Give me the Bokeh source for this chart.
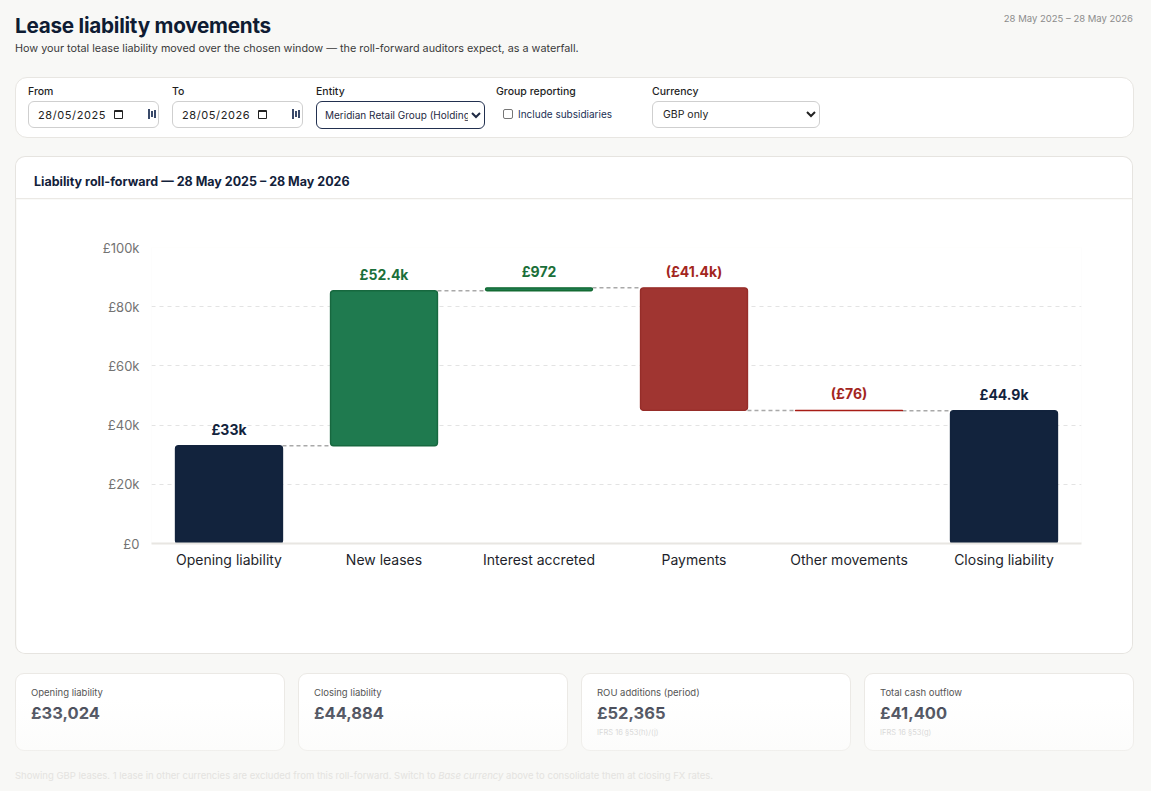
from bokeh.plotting import figure
from bokeh.models import ColumnDataSource, FactorRange, FixedTicker, Div, Spacer, Range1d
from bokeh.layouts import column, row
from bokeh.transform import dodge
from bokeh.embed import file_html
from bokeh.resources import INLINE
from bokeh.core.properties import value

# ---------------- data ----------------
categories = ["Opening liability", "New leases", "Interest accreted",
              "Payments", "Other movements", "Closing liability"]
amounts = [33024, 52365, 972, -41400, -76, 44884]
kinds = ["total", "delta", "delta", "delta", "delta", "total"]
y_ticks = [0, 20000, 40000, 60000, 80000, 100000]
y_tick_labels = ["£0", "£20k", "£40k", "£60k", "£80k", "£100k"]

kpi_labels = ["Opening liability", "Closing liability", "ROU additions (period)", "Total cash outflow"]
kpi_values = ["£33,024", "£44,884", "£52,365", "£41,400"]
kpi_notes = ["", "", "IFRS 16 §53(h)/(j)", "IFRS 16 §53(g)"]

FONT = "Inter"
BG = "#f8f8f6"
NAVY = "#12233d"
GREEN_BAR = "#1f7a4f"
RED_BAR = "#a03531"
GREEN_TXT = "#1b6f3a"
RED_TXT = "#a3261e"


def fmt(v):
    a = abs(v)
    if a >= 1000:
        s = f"{a / 1000:.1f}".rstrip("0").rstrip(".")
        s = f"£{s}k"
    else:
        s = f"£{a:.0f}"
    return f"({s})" if v < 0 else s


# ---------------- waterfall geometry ----------------
running = 0
bottoms, tops, levels, colors, lcolors, lab_col = [], [], [], [], [], []
for a, k in zip(amounts, kinds):
    if k == "total":
        b, t = 0, a
        colors.append(NAVY); lcolors.append(NAVY); lab_col.append(NAVY)
    else:
        b, t = running, running + a
        if a >= 0:
            colors.append(GREEN_BAR); lcolors.append("#17683f" if abs(a) > 5000 else "#136b33"); lab_col.append(GREEN_TXT)
        else:
            colors.append(RED_BAR); lcolors.append("#962d29" if abs(a) > 5000 else "#a81c16"); lab_col.append(RED_TXT)
    running = t
    bottoms.append(min(b, t)); tops.append(max(b, t)); levels.append(t)

src = ColumnDataSource(dict(
    cat=categories, bottom=bottoms, top=tops, color=colors, lcolor=lcolors,
    label=[fmt(a) for a in amounts], label_y=tops, label_color=lab_col,
))
csrc = ColumnDataSource(dict(
    c0=categories[:-1], c1=categories[1:], lvl=levels[:-1],
))

# ---------------- figure ----------------
p = figure(x_range=FactorRange(*categories), y_range=Range1d(0, 100000),
           width=1118, height=455, output_backend="svg", toolbar_location=None,
           min_border_left=135, min_border_right=53, min_border_top=48, min_border_bottom=111,
           background_fill_color="white", border_fill_color="white")
p.outline_line_color = None

p.segment(x0=dodge("c0", 0.345, range=p.x_range), y0="lvl",
          x1=dodge("c1", -0.345, range=p.x_range), y1="lvl",
          line_color="#a9a9a9", line_width=1.5, line_dash="4 3", source=csrc)
p.vbar(x="cat", bottom="bottom", top="top", width=0.69, fill_color="color",
       line_color="lcolor", line_width=1.4, border_radius=3, source=src)
p.text(x="cat", y="label_y", text="label", text_color="label_color",
       text_align="center", text_baseline="bottom", y_offset=-8,
       text_font=value(FONT), text_font_size="14px", text_font_style="bold", source=src)

ticker = FixedTicker(ticks=y_ticks)
p.yaxis.ticker = ticker
p.yaxis.major_label_overrides = {t: l for t, l in zip(y_ticks, y_tick_labels)}
p.yaxis.axis_line_color = None
p.yaxis.major_tick_line_color = None
p.yaxis.minor_tick_line_color = None
p.yaxis.major_label_standoff = 6
p.yaxis.major_label_text_font = FONT
p.yaxis.major_label_text_font_size = "13px"
p.yaxis.major_label_text_color = "#737373"

p.xaxis.axis_line_color = "#e8e6e2"
p.xaxis.axis_line_width = 2
p.xaxis.major_tick_line_color = None
p.xaxis.minor_tick_line_color = None
p.xaxis.major_label_standoff = 1
p.xaxis.major_label_text_font = FONT
p.xaxis.major_label_text_font_size = "14px"
p.xaxis.major_label_text_color = "#1e1f2b"

p.xgrid.grid_line_color = None
p.ygrid.grid_line_color = "#e3e3e3"
p.ygrid.grid_line_dash = "4 4"
p.ygrid.grid_line_width = 1


# ---------------- HTML parts ----------------
def txt(s, left, cy, size, color, weight=400, extra=""):
    lh = round(size * 1.3)
    top = cy - lh / 2
    return (f'<div style="position:absolute;left:{left}px;top:{top}px;font-size:{size}px;'
            f'line-height:{lh}px;color:{color};font-weight:{weight};white-space:nowrap;{extra}">{s}</div>')


def box(left, top, w, h, style):
    return (f'<div style="position:absolute;left:{left}px;top:{top}px;width:{w}px;height:{h}px;'
            f'box-sizing:border-box;{style}"></div>')


def date_input(left, val):
    h = box(left, 101, 131, 27, "border:1px solid #cfcfcf;border-radius:6px;background:#fff")
    h += txt(val, left + 10, 114.5, 11, "#222", extra="letter-spacing:0.6px")
    # calendar icon
    h += box(left + 86, 110, 9, 9, "border:1.3px solid #222;border-top-width:2.5px;border-radius:1px")
    # small icon at right
    h += box(left + 120, 109, 2, 10, "background:#3a4a6a")
    h += box(left + 123, 111, 1.5, 6, "background:#3a4a6a")
    h += box(left + 126, 110, 1.5, 8, "background:#3a4a6a")
    return h


hdr = f'<div style="position:relative;width:1151px;height:156px;font-family:{FONT},sans-serif;">'
hdr += txt("Lease liability movements", 15, 25, 20.7, "#0f1c33", 700, "letter-spacing:-0.25px")
hdr += txt("How your total lease liability moved over the chosen window — the roll-forward auditors expect, as a waterfall.",
           15, 49, 10.8, "#3a3a3a")
hdr += (f'<div style="position:absolute;right:18px;top:12.5px;font-size:9.5px;line-height:12px;color:#8c8c8c;'
        f'white-space:nowrap;">28 May 2025 – 28 May 2026</div>')
hdr += box(15, 77, 1119, 61, "background:#fff;border:1px solid #e8e6e2;border-radius:12px")
for lab, lx in [("From", 28), ("To", 172), ("Entity", 316), ("Group reporting", 496), ("Currency", 652)]:
    hdr += txt(lab, lx, 92, 10.5, "#1f1f1f", 500)
hdr += date_input(28, "28/05/2025")
hdr += date_input(172, "28/05/2026")
hdr += ('<select style="position:absolute;left:316px;top:101px;width:169px;height:28px;box-sizing:border-box;'
        'border:1.5px solid #22304f;border-radius:6px;background:#fff;font-family:Inter,sans-serif;font-size:10px;'
        'color:#1f2a44;padding-left:4px;outline:none;">'
        '<option>Meridian Retail Group (Holdings) Ltd</option></select>')
hdr += box(503, 109, 10, 10, "border:1px solid #767676;border-radius:2px;background:#fff")
hdr += txt("Include subsidiaries", 518, 114.5, 10, "#1a2f55")
hdr += ('<select style="position:absolute;left:652px;top:101px;width:168px;height:27px;box-sizing:border-box;'
        'border:1px solid #cfcfcf;border-radius:6px;background:#fff;font-family:Inter,sans-serif;font-size:10.5px;'
        'color:#222;padding-left:6px;outline:none;">'
        '<option>GBP only</option></select>')
hdr += '</div>'
header = Div(text=hdr, width=1151, height=156, margin=0)

title_div = Div(
    text=(f'<div style="position:relative;width:1118px;height:43px;box-sizing:border-box;background:#fff;'
          f'border:1px solid #e6e4e0;border-bottom:1px solid #ebe9e5;border-radius:10px 10px 0 0;font-family:{FONT},sans-serif;">'
          + txt("Liability roll-forward — 28 May 2025 – 28 May 2026", 18, 24.5, 12.5, "#12213a", 700) + '</div>'),
    width=1118, height=43, margin=0)

p.styles = {"border-left": "1px solid #e6e4e0", "border-right": "1px solid #e6e4e0",
            "border-bottom": "1px solid #e6e4e0", "border-radius": "0 0 10px 10px", "overflow": "hidden"}

card = column(title_div, p, spacing=0)

bot = f'<div style="position:relative;width:1151px;height:138px;font-family:{FONT},sans-serif;">'
for i, (lab, val, note) in enumerate(zip(kpi_labels, kpi_values, kpi_notes)):
    left = 15 + i * 283
    bot += box(left, 19, 270, 78, "background:#fff;border:1px solid #ebe9e5;border-radius:9px")
    bot += txt(lab, left + 16, 38.5, 9.5, "#555")
    bot += txt(val, left + 16, 59, 16.5, "#3d4250", 700)
    if note:
        bot += txt(note, left + 16, 78.5, 7.5, "#cdcdcd")
bot += box(0, 45, 1151, 93, f"background:linear-gradient(to bottom, rgba(248,248,246,0), rgba(248,248,246,0.8))")
bot += txt("Showing GBP leases. 1 lease in other currencies are excluded from this roll-forward. Switch to "
           "<i>Base currency</i> above to consolidate them at closing FX rates.", 15, 122, 9.5, "#e4e3e0")
bot += '</div>'
bottom = Div(text=bot, width=1151, height=138, margin=0)

root = column(header, row(Spacer(width=15, height=498), card, spacing=0), bottom,
              spacing=0, width=1151, height=791, styles={"background-color": BG})

open("out.html", "w").write(file_html(root, INLINE))
